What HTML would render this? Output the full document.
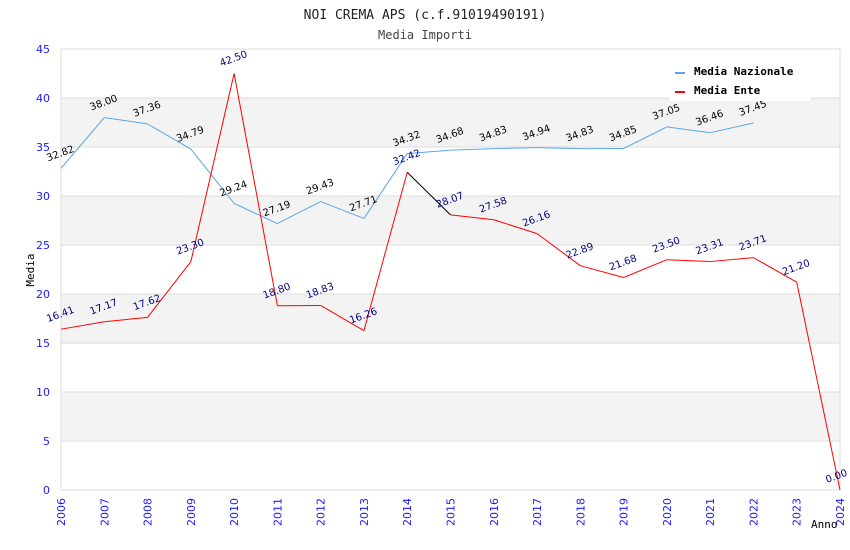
<!DOCTYPE html>
<html><head><meta charset="utf-8"><style>
body{margin:0;background:#fff}
svg{display:block;font-family:"DejaVu Sans","Liberation Sans",sans-serif}
</style></head><body>
<svg id="chart" width="850" height="550">
<text x="425" y="19" text-anchor="middle" font-family="DejaVu Sans Mono, Liberation Mono, monospace" font-size="13" fill="#222">NOI CREMA APS (c.f.91019490191)</text>
<text x="425" y="39" text-anchor="middle" font-family="DejaVu Sans Mono, Liberation Mono, monospace" font-size="12" fill="#444">Media Importi</text>
<g id="grid"></g>
<g id="axes"></g>
<g id="series"></g>
<g id="labels"></g>
<g>
<rect x="670" y="56" width="140" height="45" fill="#fff"/>
<rect x="675" y="72" width="10" height="2" fill="#5aa6ea"/>
<text x="694" y="75" font-family="DejaVu Sans Mono, Liberation Mono, monospace" font-size="11" font-weight="bold">Media Nazionale</text>
<rect x="675" y="91" width="10" height="2" fill="#f00"/>
<text x="694" y="94" font-family="DejaVu Sans Mono, Liberation Mono, monospace" font-size="11" font-weight="bold">Media Ente</text>
</g>
<text x="34" y="270" transform="rotate(-90 34 270)" text-anchor="middle" font-family="DejaVu Sans Mono, Liberation Mono, monospace" font-size="11">Media</text>
<text x="811" y="528" font-family="DejaVu Sans Mono, Liberation Mono, monospace" font-size="11">Anno</text>
</svg>
<script>
const years = [2006,2007,2008,2009,2010,2011,2012,2013,2014,2015,2016,2017,2018,2019,2020,2021,2022,2023,2024];
const nazionale = [32.82,38.00,37.36,34.79,29.24,27.19,29.43,27.71,34.32,34.68,34.83,34.94,34.83,34.85,37.05,36.46,37.45];
const ente = [16.41,17.17,17.62,23.30,42.50,18.80,18.83,16.26,32.42,28.07,27.58,26.16,22.89,21.68,23.50,23.31,23.71,21.20,0.00];
const yTicks = [0,5,10,15,20,25,30,35,40,45];

const NS='http://www.w3.org/2000/svg';
const X0=61,X1=840,Y0=490,Y1=49,YMAX=45;
const xs=i=>X0+(X1-X0)*i/(years.length-1);
const ys=v=>Y0-(Y0-Y1)*v/YMAX;
function mk(tag,attrs,parent){const e=document.createElementNS(NS,tag);for(const k in attrs)e.setAttribute(k,attrs[k]);parent.appendChild(e);return e;}
const grid=document.getElementById('grid'),axes=document.getElementById('axes'),series=document.getElementById('series'),labels=document.getElementById('labels');

for(let i=0;i<yTicks.length-1;i++){
  if(i%2===1){const r=mk('rect',{x:X0,y:ys(yTicks[i+1]),width:X1-X0,height:ys(yTicks[i])-ys(yTicks[i+1]),fill:'#f3f3f3'},grid);
  
  }
}
yTicks.forEach(t=>{
  const l=mk('line',{x1:X0,x2:X1,y1:ys(t),y2:ys(t),stroke:'#ddd','stroke-width':1},grid);
  
  
  const tx=mk('text',{x:X0-11,y:ys(t)+4,'text-anchor':'end','font-size':11,fill:'#1a1aff'},axes);
  tx.textContent=t;
  
  
});
mk('line',{x1:X0,x2:X0,y1:Y1,y2:Y0,stroke:'#ddd'},axes);
mk('line',{x1:X1,x2:X1,y1:Y1,y2:Y0,stroke:'#ddd'},axes);
years.forEach((y,i)=>{
  const tx=mk('text',{x:xs(i)+4,y:Y0+8,transform:`rotate(-90 ${xs(i)+4} ${Y0+8})`,'text-anchor':'end','font-size':11,fill:'#1a1aff'},axes);
  tx.textContent=y;
  
  
});

function drawLine(vals,color,name){
  for(let i=0;i<vals.length-1;i++){
    const c=(name==='ente-line'&&i===8)?'#000':color;
    const l=mk('line',{x1:xs(i),y1:ys(vals[i]),x2:xs(i+1),y2:ys(vals[i+1]),stroke:c,'stroke-width':1},series);
    
    
  }
}
drawLine(nazionale,'#5aa6ea','nazionale-line');
drawLine(ente,'#f00','ente-line');

function drawLabels(vals,color,name){
  vals.forEach((v,i)=>{
    const x=xs(i)-13,y=ys(v)-7;
    const t=mk('text',{x:x,y:y,transform:`rotate(-20 ${x} ${y})`,'font-size':10,fill:color},labels);
    t.textContent=v.toFixed(2);
    
    
  });
}
drawLabels(nazionale,'#000','nazionale-value-label');
drawLabels(ente,'#000080','ente-value-label');
</script>
</body></html>
